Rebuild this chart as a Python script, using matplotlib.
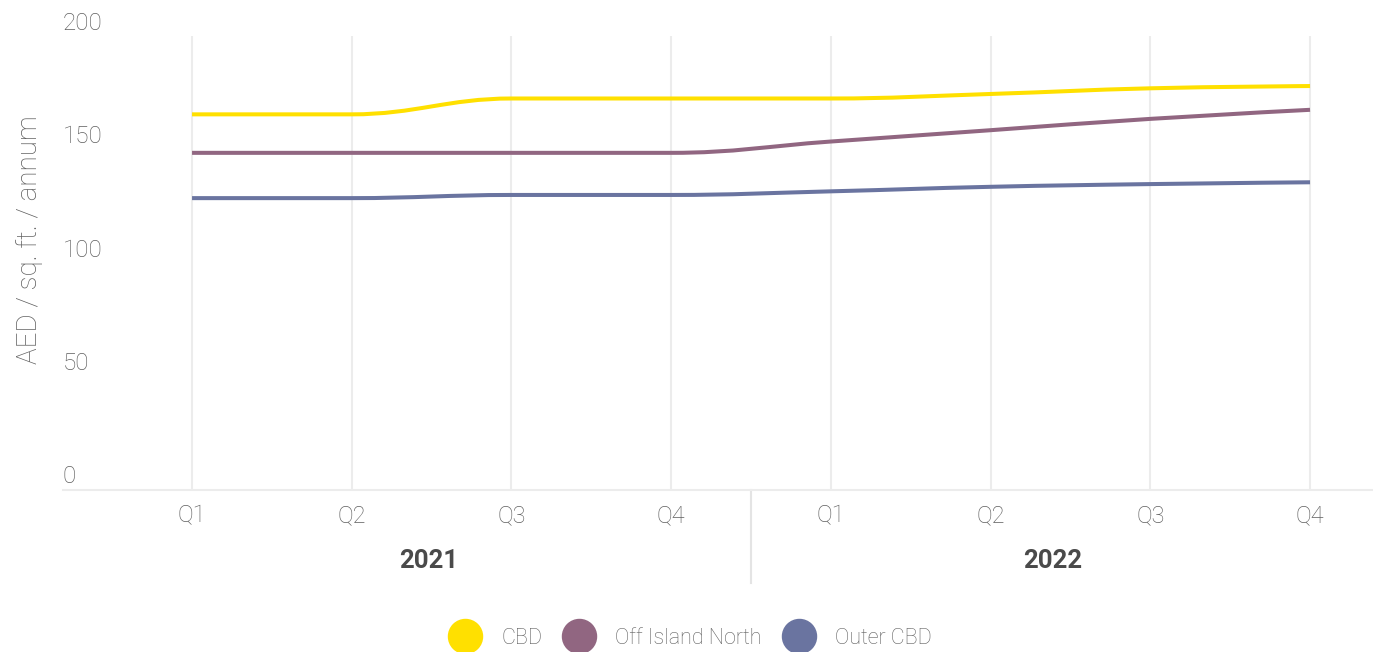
import numpy as np
import matplotlib
matplotlib.use("Agg")
from matplotlib import pyplot as plt
from matplotlib.path import Path
from matplotlib.patches import PathPatch
from matplotlib.lines import Line2D
import matplotlib.transforms as mtransforms

plt.rcParams['font.family'] = ['Roboto', 'DejaVu Sans']

# data
quarters = ["Q1", "Q2", "Q3", "Q4", "Q1", "Q2", "Q3", "Q4"]
years = ["2021", "2022"]
year_pos = [1.48, 5.39]
cbd = [160, 160, 167, 167, 167, 169, 171.5, 172.5]
off_island_north = [143, 143, 143, 143, 148, 153, 158, 162]
outer_cbd = [123, 123, 124.4, 124.4, 126, 128, 129.2, 130]
series_names = ["CBD", "Off Island North", "Outer CBD"]
colors = ["#FFE000", "#916681", "#6A74A0"]
y_ticks = [0, 50, 100, 150, 200]

tick_grey = "#5f5f5f"
grid_grey = "#ececec"


def spline_path(xs, ys, smoothing=1.5):
    # highcharts-like spline control points
    n = len(xs)
    denom = smoothing + 1
    left = [None] * n
    right = [None] * n
    for i in range(1, n - 1):
        px, py = xs[i], ys[i]
        lx, ly = xs[i - 1], ys[i - 1]
        nx, ny = xs[i + 1], ys[i + 1]
        lcx = (smoothing * px + lx) / denom
        lcy = (smoothing * py + ly) / denom
        rcx = (smoothing * px + nx) / denom
        rcy = (smoothing * py + ny) / denom
        if rcx != lcx:
            corr = ((rcy - lcy) * (rcx - px)) / (rcx - lcx) + py - rcy
            lcy += corr
            rcy += corr
        if lcy > ly and lcy > py:
            lcy = max(ly, py)
            rcy = 2 * py - lcy
        elif lcy < ly and lcy < py:
            lcy = min(ly, py)
            rcy = 2 * py - lcy
        if rcy > ny and rcy > py:
            rcy = max(ny, py)
            lcy = 2 * py - rcy
        elif rcy < ny and rcy < py:
            rcy = min(ny, py)
            lcy = 2 * py - rcy
        left[i] = (lcx, lcy)
        right[i] = (rcx, rcy)
    verts = [(xs[0], ys[0])]
    codes = [Path.MOVETO]
    for i in range(1, n):
        c1 = right[i - 1] if right[i - 1] is not None else (xs[i - 1], ys[i - 1])
        c2 = left[i] if left[i] is not None else (xs[i], ys[i])
        verts += [c1, c2, (xs[i], ys[i])]
        codes += [Path.CURVE4] * 3
    return Path(verts, codes)


W, H = 1373, 652
fig = plt.figure(figsize=(W / 100, H / 100), dpi=100)
ax = fig.add_axes([63 / W, (H - 490) / H, (1372 - 63) / W, (490 - 36) / H])

x = np.arange(len(quarters))
for vals, col in zip([cbd, off_island_north, outer_cbd], colors):
    p = spline_path(list(x), vals)
    ax.add_patch(PathPatch(p, facecolor="none", edgecolor=col, lw=2.9,
                           capstyle="butt", zorder=3))

ax.set_xlim(-0.808, 7.388)
ax.set_ylim(-5.9, 194.6)

for s in ["top", "right", "left"]:
    ax.spines[s].set_visible(False)
ax.spines["bottom"].set_color(grid_grey)
ax.spines["bottom"].set_linewidth(1.5)

ax.set_xticks(x)
ax.set_xticklabels(quarters, fontsize=17, color=tick_grey, fontweight="light")
ax.tick_params(axis="x", length=0, pad=10)
ax.set_yticks([])
ax.xaxis.grid(True, color=grid_grey, lw=1.5)
ax.set_axisbelow(True)

# y labels sit at axes left edge
trans_y = mtransforms.blended_transform_factory(ax.transAxes, ax.transData)
for v in y_ticks:
    ax.text(0, v, str(v), transform=trans_y, ha="left", va="center",
            fontsize=17.5, color=tick_grey, fontweight="light", clip_on=False)

# year group labels and divider
trans_x = mtransforms.blended_transform_factory(ax.transData, ax.transAxes)
for xp, yr in zip(year_pos, years):
    ax.text(xp, -0.156, yr, transform=trans_x, ha="center", va="center",
            fontsize=18.5, color="#4a4a4a", fontweight="bold")
ax.plot([3.5, 3.5], [0, -0.205], transform=trans_x, color="#e4e4e4", lw=1.5,
        clip_on=False)

fig.text(30 / W, (H - 240) / H, "AED / sq. ft. / annum", rotation=90,
         ha="center", va="center", fontsize=20, color=tick_grey,
         fontweight="light")

handles = [Line2D([], [], linestyle="none", marker="o", markersize=24.5,
                  markerfacecolor=c, markeredgecolor=c) for c in colors]
leg = fig.legend(handles, series_names, loc="center", ncol=3,
                 bbox_to_anchor=(690 / W, 14 / H), frameon=False, fontsize=15.5,
                 handlelength=1.58, handletextpad=0.88, columnspacing=0.93)
for t in leg.get_texts():
    t.set_color(tick_grey)
    t.set_fontweight("light")

fig.savefig("out.png", dpi=100)
